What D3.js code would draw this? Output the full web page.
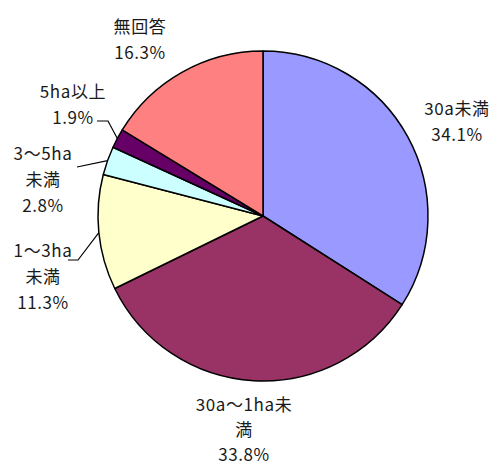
<!DOCTYPE html>
<html>
<head>
<meta charset="utf-8">
<script src="https://cdn.jsdelivr.net/npm/d3@7"></script>
<style>
  html, body { margin: 0; padding: 0; background: #fff; }
  svg { display: block; }
  text { font-family: "Noto Sans CJK JP", "Noto Sans", sans-serif; fill: #1a1a1a; }
</style>
</head>
<body>
<script>
// 経営面積別の構成比（%）
const categories = ["30a未満", "30a〜1ha未満", "1〜3ha未満", "3〜5ha未満", "5ha以上", "無回答"];
const values = [34.1, 33.8, 11.3, 2.8, 1.9, 16.3];
const colors = ["#9999FF", "#993366", "#FFFFCC", "#CCFFFF", "#660066", "#FF8080"];

// ラベルの折り返し位置（文字数）。null は折り返しなし
const labelBreaks = [null, 8, 5, 5, null, null];

const W = 497, H = 464;
const cx = 263, cy = 216, R = 165;

// ラベル（1行目の中心）と引き出し線の起点
const labelPos = [
  [457, 107], [244, 403], [43, 249], [43, 152], [73, 90], [140, 25]
];
const leaderStart = [null, null, [[68, 260], [78, 260]], [[77, 167]], [[97, 121], [108, 121]], null];
const lineH = 26;

const svg = d3.select("body").append("svg").attr("width", W).attr("height", H);
const g = svg.append("g").attr("transform", `translate(${cx},${cy})`);

const data = categories.map((c, i) => ({ name: c, value: values[i], color: colors[i], i }));
const pie = d3.pie().sort(null).value(d => d.value).startAngle(0).endAngle(2 * Math.PI);
const arcs = pie(data);
const arc = d3.arc().innerRadius(0).outerRadius(R);

g.selectAll("path.slice").data(arcs).join("path")
  .attr("class", "slice")
  .attr("d", arc)
  .attr("fill", d => d.data.color)
  .attr("stroke", "#000")
  .attr("stroke-width", 1.5)
  .attr("stroke-linejoin", "round");

// 引き出し線
arcs.forEach((a, i) => {
  if (!leaderStart[i]) return;
  const mid = (a.startAngle + a.endAngle) / 2;
  const edge = [cx + R * Math.sin(mid), cy - R * Math.cos(mid)];
  const pts = leaderStart[i].concat([edge]);
  svg.append("path")
    .attr("d", d3.line()(pts))
    .attr("fill", "none")
    .attr("stroke", "#000")
    .attr("stroke-width", 1.2);
});

// ラベル
arcs.forEach((a, i) => {
  const name = a.data.name;
  const br = labelBreaks[i];
  const lines = br ? [name.slice(0, br), name.slice(br)] : [name];
  lines.push(a.data.value.toFixed(1) + "%");
  const lh = i === 1 ? 25 : lineH;
  const t = svg.append("text")
    .attr("text-anchor", "middle")
    .attr("font-size", 17)
    .attr("letter-spacing", 0.6);
  lines.forEach((ln, k) => {
    t.append("tspan")
      .attr("x", labelPos[i][0])
      .attr("y", labelPos[i][1] + k * lh)
      .attr("dominant-baseline", "central")
      .text(ln);
  });
});
</script>
</body>
</html>
